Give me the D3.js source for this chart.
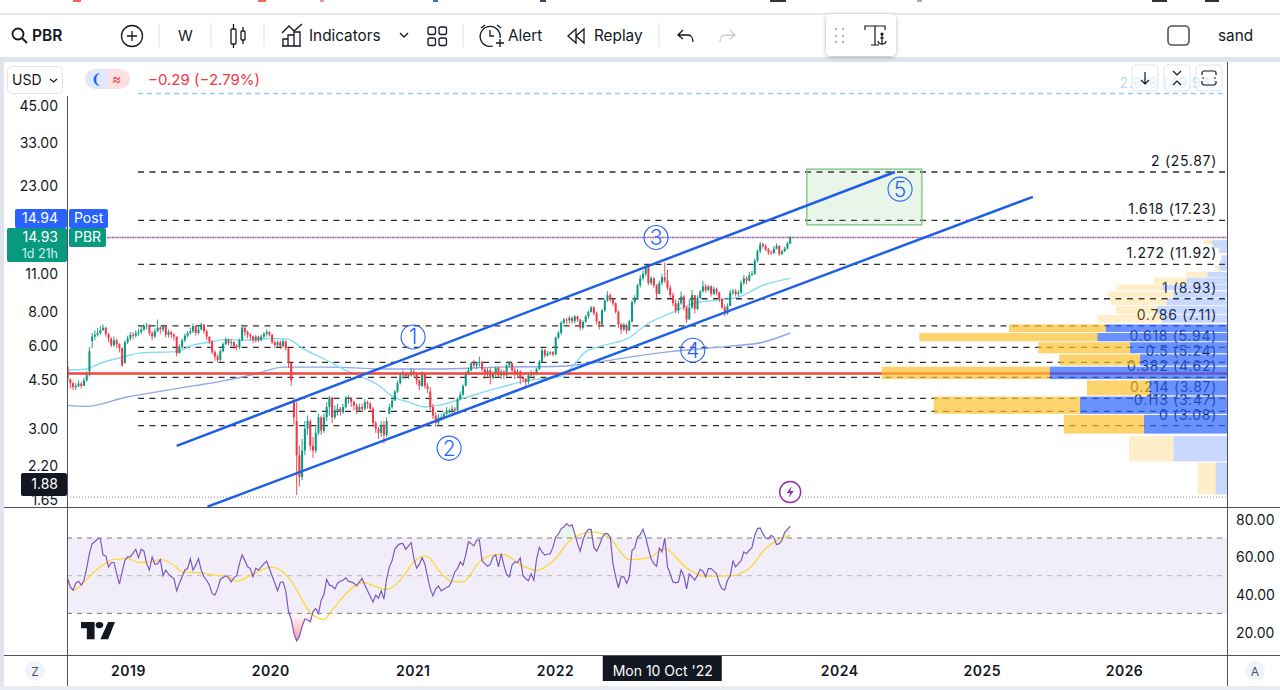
<!DOCTYPE html>
<html>
<head>
<meta charset="utf-8">
<script src="https://cdn.jsdelivr.net/npm/d3@7"></script>
<style>
    html, body { margin: 0; padding: 0; background: #fff; }
    svg { display: block; }
    text { font-family: Inter, "Noto Sans", sans-serif; fill: #131722; }
</style>
</head>
<body>
<svg id="chart" width="1280" height="690"></svg>
<script>
// weekly candles, week 0 is 30 Jul 2018
const firstWeek = Date.UTC(2018, 6, 30);

const closes = [
    4.55,4.4,4.25,4.3,4.38,4.3,4.5,4.7,5.75,6.5,
    6.6,6.7,6.85,7.0,6.65,6.4,6.05,6.3,6.1,5.9,
    5.1,6.2,6.4,6.6,6.55,6.7,6.75,6.9,7.1,7.15,
    6.7,6.5,6.8,7.0,6.9,7.15,6.6,6.75,6.6,6.5,
    5.65,5.95,6.3,6.55,6.7,6.8,7.1,6.7,6.9,7.2,
    6.8,6.5,6.25,5.7,5.5,5.35,5.75,6.1,6.35,6.15,
    6.2,6.0,5.95,6.3,7.0,6.75,6.6,6.5,6.3,6.5,
    6.3,6.5,6.65,6.75,6.6,6.2,6.05,6.2,6.0,6.25,
    5.9,5.2,4.5,3.3,2.4,2.0,2.5,3.0,3.2,2.6,
    2.5,2.9,3.3,2.95,3.3,3.6,3.9,3.3,3.5,3.55,
    3.45,3.6,3.85,3.9,3.75,3.65,3.5,3.6,3.55,3.75,
    3.7,3.55,3.15,3.0,2.9,3.1,2.85,3.2,3.6,3.8,
    4.1,4.4,4.7,4.75,4.65,4.7,4.85,4.75,4.5,4.3,
    4.75,4.3,4.2,3.6,3.35,3.15,3.3,3.3,3.4,3.5,
    3.5,3.55,3.5,3.85,4.0,4.3,4.8,4.9,5.2,5.1,
    5.2,5.25,4.95,4.8,4.9,4.6,4.75,5.0,4.7,4.85,
    4.7,5.1,5.2,4.9,4.75,4.85,4.6,4.55,4.45,4.7,
    4.8,4.75,4.95,5.25,5.8,5.55,5.65,5.7,5.6,6.45,
    6.7,7.3,7.5,7.45,7.6,7.4,7.7,7.5,7.0,7.35,
    7.7,8.0,8.3,7.9,7.4,7.2,8.1,8.8,9.2,8.9,
    8.6,8.0,7.2,6.9,7.15,6.85,7.4,8.7,9.0,10.0,
    10.6,11.0,11.7,10.2,10.6,10.0,9.3,10.2,10.7,10.4,
    9.8,9.2,8.6,8.1,8.6,9.1,8.3,7.5,8.3,9.2,
    8.2,9.0,9.5,9.9,9.6,9.9,9.3,9.7,9.4,8.9,
    8.3,7.9,8.4,9.4,9.5,9.3,9.4,10.2,10.6,10.4,
    10.9,11.0,12.3,13.3,14.1,13.9,13.5,13.2,13.1,13.6,
    13.9,13.0,13.3,13.6,14.2,14.93
];
const highs = [
    5.3,4.55,4.45,4.4,4.5,4.45,4.6,4.85,5.95,6.7,
    6.85,7.0,7.1,7.2,7.05,6.7,6.45,6.5,6.4,6.15,
    5.95,6.3,6.55,6.75,6.75,6.85,6.95,7.05,7.2,7.3,
    7.2,6.8,6.95,7.5,7.1,7.2,7.15,6.9,6.85,6.7,
    6.5,6.1,6.4,6.65,6.8,7.0,7.25,7.1,7.05,7.3,
    7.2,6.9,6.5,6.3,5.8,5.6,5.85,6.2,6.45,6.4,
    6.35,6.25,6.1,6.4,7.2,7.05,6.85,6.7,6.55,6.6,
    6.55,6.6,6.75,6.9,6.8,6.65,6.3,6.3,6.3,6.35,
    6.3,5.55,5.2,3.9,3.75,2.6,2.75,3.2,3.35,3.25,
    2.8,3.05,3.4,3.35,3.4,3.75,3.95,3.9,3.65,3.7,
    3.6,3.7,3.95,3.97,3.9,3.8,3.7,3.7,3.7,3.85,
    3.8,3.75,3.6,3.2,3.05,3.2,3.2,3.3,3.7,3.9,
    4.15,4.5,4.8,4.9,4.8,4.8,5.0,4.95,4.8,4.55,
    4.85,4.8,4.4,4.25,3.7,3.45,3.4,3.4,3.45,3.6,
    3.55,3.65,3.6,3.9,4.1,4.35,4.85,5.0,5.25,5.35,
    5.25,5.5,5.3,5.0,5.0,5.0,4.85,5.05,5.05,4.95,
    4.9,5.15,5.3,5.2,5.0,4.95,4.9,4.7,4.6,4.75,
    4.9,4.85,5.0,5.35,5.9,5.85,5.75,5.75,5.75,6.5,
    6.8,7.4,7.6,7.6,7.75,7.7,7.8,7.75,7.55,7.45,
    7.8,8.1,8.4,8.4,8.0,7.4,8.2,8.9,9.5,9.35,
    8.95,8.65,8.1,7.3,7.3,7.25,7.5,8.8,9.2,10.1,
    10.9,11.3,11.9,11.7,10.8,10.7,10.1,10.4,11.0,12.1,
    11.4,10.0,9.4,8.9,8.8,9.5,9.2,8.4,8.9,9.6,
    9.2,9.2,9.6,10.4,10.1,10.0,10.0,9.9,9.8,9.5,
    9.0,8.5,8.6,9.6,9.7,9.7,9.6,10.4,10.9,10.8,
    11.2,11.3,12.5,13.5,14.4,14.3,14.1,13.7,13.4,13.9,
    14.2,14.0,13.5,13.8,14.4,15.1
];
const lows = [
    4.4,4.2,4.15,4.15,4.25,4.2,4.3,4.45,4.65,5.9,
    6.3,6.5,6.6,6.85,6.5,6.2,5.95,5.95,5.9,5.7,
    5.05,5.2,6.1,6.3,6.35,6.45,6.55,6.65,6.8,6.9,
    6.55,6.3,6.4,6.75,6.65,6.75,6.45,6.45,6.4,6.3,
    5.5,5.65,5.85,6.2,6.45,6.6,6.7,6.55,6.6,6.85,
    6.65,6.3,6.1,5.6,5.3,5.25,5.3,5.7,6.05,6.05,
    6.0,5.85,5.8,5.85,6.25,6.55,6.4,6.3,6.15,6.2,
    6.2,6.25,6.4,6.5,6.5,6.1,5.9,5.95,5.85,5.95,
    5.8,5.0,4.3,3.1,1.72,1.85,1.95,2.4,2.85,2.5,
    2.35,2.45,2.85,2.85,2.9,3.2,3.35,3.15,3.25,3.35,
    3.35,3.4,3.55,3.7,3.6,3.5,3.4,3.45,3.45,3.5,
    3.55,3.45,3.05,2.9,2.75,2.8,2.65,2.8,3.4,3.55,
    3.8,4.05,4.35,4.55,4.55,4.55,4.65,4.6,4.35,4.15,
    4.25,4.2,4.05,3.5,3.25,3.05,3.1,3.2,3.25,3.35,
    3.4,3.4,3.4,3.45,3.8,3.95,4.3,4.7,4.85,5.0,
    4.95,5.05,4.85,4.55,4.65,4.35,4.55,4.65,4.6,4.55,
    4.55,4.65,5.0,4.8,4.55,4.6,4.35,4.45,4.3,4.35,
    4.6,4.55,4.7,4.9,5.2,5.45,5.5,5.55,5.5,5.55,
    6.35,6.6,7.2,7.2,7.25,7.25,7.25,7.35,6.85,6.9,
    7.3,7.55,7.95,7.75,7.2,6.9,7.15,8.0,8.7,8.7,
    8.4,7.9,7.0,6.65,6.8,6.65,6.8,7.3,8.5,8.9,
    9.8,10.4,10.8,10.0,10.0,9.8,9.0,9.3,10.0,10.2,
    9.6,9.0,8.4,7.9,7.9,8.5,8.1,7.3,7.5,8.2,
    7.9,8.1,8.9,9.4,9.4,9.5,9.1,9.2,9.2,8.7,
    8.2,7.7,7.8,8.4,9.2,9.1,9.1,9.3,10.0,10.1,
    10.3,10.8,10.9,12.1,13.1,13.6,13.3,12.9,12.9,13.0,
    13.5,12.8,12.9,13.2,13.5,14.1
];
// open is the previous close, except on these gap weeks
const gapWeeks = [0, 8, 9, 21, 83, 84, 118, 133];
const gapOpens = [5.05, 4.85, 6.25, 5.2, 3.8, 3.2, 3.4, 4.1];

const rsiValues = [
    48.5,44,42.3,46,47,45,47.6,54,62,67,
    68,69.6,69.6,61,60.5,54.6,57,57,51,45.5,
    52,58,60,60,62,64,59.6,64,63,56.4,
    53,60,56,56.4,58.5,50,53,51,49.4,48.5,
    42,46,49.4,53,53.8,59,53,55.6,59,53,
    49.4,47.6,45,40.6,39.7,43,48,49,50,49,
    46.7,49,50,56.4,61,58,54.7,53.8,49.4,54,
    53,54.7,56.4,57.7,53.8,50,46,42,46.4,46.7,
    42,31,27,19.4,15.4,17.7,23,27,26.5,25.6,
    31,32.6,30,37,40,48,45,44.6,43,46,
    47,47.6,49,47,46.7,46,44.6,46.7,48.5,45,
    42,39,36,39.7,38,42,37.6,48.5,54.7,58,
    64,66,67,67,64,65.8,67.5,59,54,56,
    59.5,56.4,49.4,43,39.3,43,44.5,42,43,43.7,
    44.5,47.6,52,53.8,57.3,55.6,61,68,67,65.8,
    68.8,69,58,56.4,55,56,60,61,54.7,61.7,
    55.6,50.6,49.4,55.6,57.3,57,59.4,50,48.5,47.3,
    51,47.6,59,65,62.6,61,61.4,61.7,65,70.5,
    72,75,75.8,77.6,76.3,77,72.3,67,63,68.8,
    72.8,74.6,74.6,65,63,66,70,72.3,72.3,70.5,
    56.4,49.4,43.6,49.4,49.4,45.9,49.4,63.5,64.7,70.5,
    71.8,74.6,70.5,64.4,59,56.4,55,64.7,62.6,70,
    54.7,51,46.7,46.2,46.7,53,50,43,51,49.4,
    47.6,50.3,53.4,52.4,49.4,53.8,53.8,52.4,51,46,
    43,42.4,47.6,50,57.7,54.7,56.4,58,62.6,61.7,
    63.5,65,71.4,75,75.3,72.3,70,69.6,71.4,70.5,
    66.5,67,68.8,73,74.6,76.3
];
const rsiMaWeeks = [
    0,2,5,9,12,17,22,26,31,34,39,42,48,54,59,62,68,75,80,83,86,89,94,97,103,108,
    111,117,122,127,131,133,136,141,145,151,157,160,166,172,178,185,193,199,206,
    213,219,227,234,243,250,256,265
];
const rsiMaValues = [
    47.1,42.3,45,51.1,54.7,58.7,59.1,57,57.3,58.7,55.5,52,51.5,50.3,49.4,47,51,54.5,50.6,45,37,30.5,26.8,31.8,41.8,46.4,
    45.3,42.7,47.6,57.3,60.5,59,53,47,46.7,57.3,61.2,61.2,55.9,52.9,57.7,69.6,73.2,69.6,58.5,
    59.4,64.4,54.1,49.7,49.9,53.8,64.4,71.4
];

// moving averages on the price pane
const cyanWeeks = [0,6,13,20,27,40,46,52,58,65,75,81,86,95,102,109,114,119,125,131,136,145,157,169,181,185,190,197,206,213,221,231,238,246,255,265];
const cyanPrices = [4.9,4.94,5.24,5.47,5.67,5.73,6.05,6.2,6.35,6.3,6.4,6.35,5.9,5.33,4.9,4.58,4.32,3.94,3.75,3.6,3.65,3.87,4.2,4.5,4.66,5.03,5.73,6.05,6.45,7.27,7.9,8.66,8.81,9.05,10.0,10.6];
const blueWeeks = [0,7,21,40,58,70,79,95,119,136,157,181,194,206,221,243,255,265];
const bluePrices = [3.65,3.62,3.9,4.2,4.5,4.78,5.03,5.03,4.95,4.95,5.03,5.07,5.24,5.47,5.73,6.0,6.2,6.7];

// fibonacci levels
const fibRatios = ["2", "1.618", "1.272", "1", "0.786", "0.618", "0.5", "0.382", "0.214", "0.113", "0"];
const fibPrices = [25.87, 17.23, 11.92, 8.93, 7.11, 5.94, 5.24, 4.62, 3.87, 3.47, 3.08];
const topFibRatio = "2.618";
const topFibPrice = 49.94;
const supportPrice = 4.77;
const lastPrice = 14.93;
const lowPrice = 1.69;

// channel lines as [week, price] ends
const upperChannel = [[40, 2.6], [303.4, 25.87]];
const lowerChannel = [[51.3, 1.56], [354, 21.0]];

// target box
const boxWeeks = [271.1, 313.3];
const boxPrices = [26.5, 16.6];

// wave labels
const waveNames = ["1", "2", "3", "4", "5"];
const waveWeeks = [126.7, 139.9, 215.8, 229.3, 305.3];
const wavePrices = [6.48, 2.55, 14.93, 5.8, 22.4];

// volume profile rows
const vpTop = [14.6,14.1,13.7,12.85,12.3,11.8,11.2,10.65,10.05,9.5,8.95,8.4,7.8,7.2,6.7,6.2,5.6,5.05,4.5,3.93,3.37,2.82,2.26];
const vpBottom = [14.1,13.7,13.1,12.3,11.8,11.3,10.7,10.1,9.6,9.0,8.45,7.85,7.3,6.75,6.25,5.65,5.1,4.55,3.97,3.4,2.88,2.28,1.73];
const vpUp = [4.4,4.0,2.2,1.5,2.0,2.2,5.7,11.7,18.6,15.6,17.5,20.4,18.9,35.2,37.6,28.1,25.2,51.4,22.5,42.6,24.1,15.5,3.3];
const vpDown = [2.4,0.5,0.3,0.3,0.2,1.3,6.2,9.5,13.3,19.1,16.2,11.8,18.6,28,51.6,26.6,23.4,48.7,18.1,42.4,23.2,12.9,5.2];
const valueAreaHigh = 7.2;
const valueAreaLow = 2.88;

const priceTicks = [45, 33, 23, 11, 8, 6, 4.5, 3, 2.2, 1.65];
const rsiTicks = [80, 60, 40, 20];
const rsiLevels = [70, 50, 30];
const yearLabels = [2019, 2020, 2021, 2022, 2024, 2025, 2026];

const left = 67, right = 1227, paneTop = 62, paneBottom = 507, rsiBottom = 655, axisBottom = 686;

const svg = d3.select("#chart");

const weekDate = (week) => new Date(firstWeek + week * 7 * 86400000);

const x = d3.scaleUtc()
    .domain([Date.UTC(2019, 0, 1), Date.UTC(2026, 0, 1)])
    .range([128, 1124]);
const xWeek = (week) => x(weekDate(week));

const y = d3.scaleLog()
    .domain([1.65, 45])
    .range([500, 106]);

const rsiY = d3.scaleLinear()
    .domain([30, 70])
    .range([613.4, 538]);

const vpWidth = d3.scaleLinear()
    .domain([0, 100])
    .range([0, 345]);

const defs = svg.append("defs");
defs.append("clipPath").attr("id", "pricePane")
    .append("rect")
    .attr("x", left).attr("y", paneTop)
    .attr("width", right - left).attr("height", paneBottom - paneTop);
const redFade = defs.append("linearGradient").attr("id", "redFade")
    .attr("x1", 0).attr("x2", 0).attr("y1", 0).attr("y2", 1);
redFade.append("stop").attr("offset", 0).attr("stop-color", "#f23645").attr("stop-opacity", 0);
redFade.append("stop").attr("offset", 1).attr("stop-color", "#f23645").attr("stop-opacity", 0.5);
const shadow = defs.append("filter").attr("id", "cardShadow")
    .attr("x", "-20%").attr("y", "-20%").attr("width", "140%").attr("height", "150%");
shadow.append("feDropShadow").attr("dx", 0).attr("dy", 1).attr("stdDeviation", 2).attr("flood-opacity", 0.3);

drawFrame();
drawToolbar();

const pane = svg.append("g").attr("clip-path", "url(#pricePane)");
drawLevels();
drawAverages();
drawCandles();
drawDrawings();
drawVolumeProfile();
drawRsi();
drawAxes();
drawChartButtons();

function drawFrame() {
    svg.append("rect").attr("width", 1280).attr("height", 690).attr("fill", "#fff");
    const bands = [[0, 13, 1280, 2, "#e9e9ec"], [0, 57, 1280, 5, "#e0e3eb"], [0, 57, 4, 633, "#e0e3eb"], [0, 686, 1280, 4, "#e9ecf3"]];
    bands.forEach(([bx, by, bw, bh, color]) => {
        svg.append("rect").attr("x", bx).attr("y", by).attr("width", bw).attr("height", bh).attr("fill", color);
    });
    // cut off icons of the browser bar above
    [[73, 8, "#f0695f"], [258, 8, "#f0695f"], [320, 4, "#e9988f"], [433, 5, "#3b6fd4"], [540, 6, "#3c4a63"], [770, 16, "#333"], [917, 5, "#aaa"], [1152, 15, "#333"], [1205, 14, "#333"]].forEach(([bx, bw, color]) => {
        svg.append("rect").attr("x", bx).attr("y", 0).attr("width", bw).attr("height", 2).attr("fill", color);
    });
}

function drawToolbar() {
    const bar = svg.append("g").attr("fill", "none").attr("stroke", "#131722").attr("stroke-width", 1.3);
    const sep = [159, 211, 264, 463, 659];
    sep.forEach((sx) => {
        bar.append("line").attr("x1", sx).attr("x2", sx).attr("y1", 23).attr("y2", 47).attr("stroke", "#e6e6e9");
    });

    // search
    bar.append("circle").attr("cx", 18).attr("cy", 34).attr("r", 5.5).attr("stroke-width", 1.8);
    bar.append("path").attr("d", "M22 38L27 43").attr("stroke-width", 1.8);
    // add symbol
    bar.append("circle").attr("cx", 132).attr("cy", 36).attr("r", 10.5);
    bar.append("path").attr("d", "M127 36H137M132 31V41");
    // candles icon
    bar.append("rect").attr("x", 231).attr("y", 29).attr("width", 5).attr("height", 15).attr("rx", 1);
    bar.append("rect").attr("x", 241).attr("y", 31).attr("width", 4).attr("height", 9).attr("rx", 1);
    bar.append("path").attr("d", "M233.5 24V29M233.5 44V48M243 27V31M243 40V44");
    // indicators icon
    bar.append("path").attr("d", "M282 33L289 26L294 31L302 24");
    bar.append("path").attr("d", "M283 46V39H288V46M288 46V35H294V46M294 46V32H300V46M282 46H301");
    bar.append("path").attr("d", "M400 33L404 37L408 33");
    // layouts icon
    [[428, 27], [439, 27], [428, 38], [439, 38]].forEach(([sx, sy]) => {
        bar.append("rect").attr("x", sx).attr("y", sy).attr("width", 7.5).attr("height", 7.5).attr("rx", 2);
    });
    // alert icon
    bar.append("path").attr("d", "M493 46A10 10 0 1 1 500 38M481 28L485 25M497 25L501 28M490 30V36H494");
    bar.append("path").attr("d", "M496 43H504M500 39V47");
    // replay icon
    bar.append("path").attr("d", "M576 29L568 36L576 43ZM584 29L576 36L584 43Z");
    // undo, redo
    bar.append("path").attr("d", "M683 30L678 35L683 39M678 35H688C691 35 693 38 693 42");
    bar.append("path").attr("d", "M730 30L735 35L730 39M735 35H725C722 35 720 38 720 42").attr("stroke", "#c9cbd1");
    // screenshot box
    bar.append("rect").attr("x", 1168).attr("y", 26).attr("width", 21).attr("height", 19).attr("rx", 4).attr("stroke", "#50535e").attr("stroke-width", 1.6);

    const labels = [["PBR", 32, 41, 15.5, 600], ["W", 178, 41, 15, 400], ["Indicators", 309, 41, 15.3, 400], ["Alert", 508, 41, 15.3, 400], ["Replay", 594, 41, 15.3, 400], ["sand", 1218, 41, 15.3, 400]];
    labels.forEach(([name, lx, ly, size, weight]) => {
        svg.append("text").attr("x", lx).attr("y", ly).attr("font-size", size).attr("font-weight", weight).text(name);
    });

    // floating drawing card
    const card = svg.append("g");
    card.append("rect").attr("x", 826).attr("y", 14).attr("width", 70).attr("height", 42).attr("rx", 5)
        .attr("fill", "#fff").attr("filter", "url(#cardShadow)");
    [[836, 29], [843, 29], [836, 36], [843, 36], [836, 42], [843, 42]].forEach(([dx, dy]) => {
        card.append("circle").attr("cx", dx).attr("cy", dy).attr("r", 1.2).attr("fill", "#b2b5be");
    });
    card.append("path").attr("fill", "none").attr("stroke", "#131722").attr("stroke-width", 1.2)
        .attr("d", "M865 30V26H885V30M875 26V45M871 45H879M882 35V45M878 41C878 45 886 45 886 41M880 38H884");
    card.append("circle").attr("cx", 882).attr("cy", 34).attr("r", 1.6).attr("fill", "#131722");
}

function drawLevels() {
    const levelX = 138;

    pane.append("line")
        .attr("x1", levelX).attr("x2", right)
        .attr("y1", y(topFibPrice)).attr("y2", y(topFibPrice))
        .attr("stroke", "#90caf9").attr("stroke-width", 1.5).attr("stroke-dasharray", "5 4");
    svg.append("text")
        .attr("x", 1217).attr("y", y(topFibPrice) - 6)
        .attr("text-anchor", "end").attr("font-size", 14).attr("letter-spacing", 0.7).style("fill", "#b9dcfa")
        .text(`${topFibRatio} (${topFibPrice})`);

    pane.selectAll(".fib")
        .data(fibPrices)
        .enter()
        .append("line")
        .attr("class", "fib")
        .attr("x1", levelX).attr("x2", right)
        .attr("y1", (d) => y(d)).attr("y2", (d) => y(d))
        .attr("stroke", "#2b2e36").attr("stroke-width", 1.3).attr("stroke-dasharray", "6 5.5");

    pane.selectAll(".fib-label")
        .data(fibPrices)
        .enter()
        .append("text")
        .attr("class", "fib-label")
        .attr("x", 1217)
        .attr("y", (d) => y(d) - 6)
        .attr("text-anchor", "end")
        .attr("font-size", 14)
        .attr("letter-spacing", 0.7)
        .text((d, i) => `${fibRatios[i]} (${d})`);

    pane.append("line")
        .attr("x1", left).attr("x2", right)
        .attr("y1", y(lowPrice)).attr("y2", y(lowPrice))
        .attr("stroke", "#8a8d96").attr("stroke-dasharray", "1 2");

    // last price line alternates a red and a blue dot
    [["#e5505f", "2 3", 0], ["#5b7fe8", "2 3", 2.5]].forEach(([color, dash, offset]) => {
        pane.append("line")
            .attr("x1", 107).attr("x2", right)
            .attr("y1", y(lastPrice)).attr("y2", y(lastPrice))
            .attr("stroke", color).attr("stroke-width", 1.3)
            .attr("stroke-dasharray", dash).attr("stroke-dashoffset", offset);
    });
}

function drawAverages() {
    const line = d3.line()
        .x((d) => xWeek(d[0]))
        .y((d) => y(d[1]))
        .curve(d3.curveMonotoneX);

    pane.append("path")
        .attr("d", line(d3.zip(blueWeeks, bluePrices)))
        .attr("fill", "none").attr("stroke", "#8fa8ee").attr("stroke-width", 1.4);
    pane.append("path")
        .attr("d", line(d3.zip(cyanWeeks, cyanPrices)))
        .attr("fill", "none").attr("stroke", "#86dcf2").attr("stroke-width", 1.4);
}

function drawCandles() {
    const weeks = d3.range(closes.length);
    const open = (week) => {
        const gap = gapWeeks.indexOf(week);
        return gap >= 0 ? gapOpens[gap] : closes[week - 1];
    };
    const color = (week) => closes[week] >= open(week) ? "#089981" : "#f23645";
    const candles = pane.append("g");

    candles.selectAll(".wick")
        .data(weeks)
        .enter()
        .append("line")
        .attr("class", "wick")
        .attr("x1", (d) => xWeek(d)).attr("x2", (d) => xWeek(d))
        .attr("y1", (d) => y(highs[d])).attr("y2", (d) => y(lows[d]))
        .attr("stroke", color).attr("stroke-width", 0.9);

    candles.selectAll(".body")
        .data(weeks)
        .enter()
        .append("rect")
        .attr("class", "body")
        .attr("x", (d) => xWeek(d) - 1)
        .attr("width", 2)
        .attr("y", (d) => y(Math.max(open(d), closes[d])))
        .attr("height", (d) => Math.max(1, Math.abs(y(open(d)) - y(closes[d]))))
        .attr("fill", color);
}

function drawDrawings() {
    pane.append("line")
        .attr("x1", left).attr("x2", right)
        .attr("y1", y(supportPrice)).attr("y2", y(supportPrice))
        .attr("stroke", "#f2453d").attr("stroke-width", 2.4);

    pane.append("rect")
        .attr("x", xWeek(boxWeeks[0]))
        .attr("y", y(boxPrices[0]))
        .attr("width", xWeek(boxWeeks[1]) - xWeek(boxWeeks[0]))
        .attr("height", y(boxPrices[1]) - y(boxPrices[0]))
        .attr("fill", "#4caf50").attr("fill-opacity", 0.13)
        .attr("stroke", "#81c784").attr("stroke-width", 1.4);

    [upperChannel, lowerChannel].forEach((ends) => {
        pane.append("line")
            .attr("x1", xWeek(ends[0][0])).attr("y1", y(ends[0][1]))
            .attr("x2", xWeek(ends[1][0])).attr("y2", y(ends[1][1]))
            .attr("stroke", "#1f5fe8").attr("stroke-width", 2.5);
    });

    const waves = pane.selectAll(".wave")
        .data(waveNames)
        .enter()
        .append("g")
        .attr("class", "wave")
        .attr("transform", (d, i) => `translate(${xWeek(waveWeeks[i])}, ${y(wavePrices[i])})`);
    waves.append("circle")
        .attr("r", 12)
        .attr("fill", "none").attr("stroke", "#2962ff").attr("stroke-width", 1.1);
    waves.append("text")
        .attr("text-anchor", "middle").attr("y", 7.5)
        .attr("font-size", 21)
        .attr("font-weight", 300)
        .style("fill", "#2962ff")
        .text((d) => d);

    // earnings marker
    const marker = svg.append("g").attr("transform", `translate(${xWeek(265)}, 492)`);
    marker.append("circle").attr("r", 10.5).attr("fill", "#fff").attr("stroke", "#9c27b0").attr("stroke-width", 1.4);
    marker.append("path").attr("d", "M1.5 -6L-3.5 1H0L-1.5 6L3.5 -1H0Z").attr("fill", "#9c27b0");
}

function drawVolumeProfile() {
    const rows = d3.range(vpUp.length);
    const inArea = (row) => vpTop[row] <= valueAreaHigh && vpBottom[row] >= valueAreaLow;
    const profile = pane.append("g");

    profile.selectAll(".vp-up")
        .data(rows)
        .enter()
        .append("rect")
        .attr("class", "vp-up")
        .attr("x", (d) => right - vpWidth(vpUp[d]))
        .attr("y", (d) => y(vpTop[d]))
        .attr("width", (d) => vpWidth(vpUp[d]))
        .attr("height", (d) => y(vpBottom[d]) - y(vpTop[d]))
        .attr("fill", "#2962ff")
        .attr("fill-opacity", (d) => inArea(d) ? 0.7 : 0.25);

    profile.selectAll(".vp-down")
        .data(rows)
        .enter()
        .append("rect")
        .attr("class", "vp-down")
        .attr("x", (d) => right - vpWidth(vpUp[d]) - vpWidth(vpDown[d]))
        .attr("y", (d) => y(vpTop[d]))
        .attr("width", (d) => vpWidth(vpDown[d]))
        .attr("height", (d) => y(vpBottom[d]) - y(vpTop[d]))
        .attr("fill", "#fbc02d")
        .attr("fill-opacity", (d) => inArea(d) ? 0.7 : 0.25);
}

function drawRsi() {
    const g = svg.append("g");
    const weeks = d3.range(rsiValues.length);

    g.append("rect")
        .attr("x", left).attr("width", right - left)
        .attr("y", rsiY(70)).attr("height", rsiY(30) - rsiY(70))
        .attr("fill", "#7e57c2").attr("fill-opacity", 0.1);

    g.selectAll(".rsi-level")
        .data(rsiLevels)
        .enter()
        .append("line")
        .attr("class", "rsi-level")
        .attr("x1", left).attr("x2", right)
        .attr("y1", (d) => rsiY(d)).attr("y2", (d) => rsiY(d))
        .attr("stroke", (d) => d === 50 ? "#b2b5be" : "#787b86")
        .attr("stroke-dasharray", "5 5");

    const below = d3.area()
        .x((d) => xWeek(d))
        .y0(rsiY(30))
        .y1((d) => rsiY(Math.min(30, rsiValues[d])));
    g.append("path").attr("d", below(weeks)).attr("fill", "url(#redFade)");

    const above = d3.area()
        .x((d) => xWeek(d))
        .y0(rsiY(70))
        .y1((d) => rsiY(Math.max(70, rsiValues[d])));
    g.append("path").attr("d", above(weeks)).attr("fill", "#4caf50").attr("fill-opacity", 0.12);

    const maLine = d3.line()
        .x((d) => xWeek(d[0]))
        .y((d) => rsiY(d[1]))
        .curve(d3.curveMonotoneX);
    g.append("path")
        .attr("d", maLine(d3.zip(rsiMaWeeks, rsiMaValues)))
        .attr("fill", "none").attr("stroke", "#fdd835").attr("stroke-width", 1.3);

    const rsiLine = d3.line()
        .x((d) => xWeek(d))
        .y((d) => rsiY(rsiValues[d]));
    g.append("path")
        .attr("d", rsiLine(weeks))
        .attr("fill", "none").attr("stroke", "#7e57c2").attr("stroke-width", 1.2);

    g.append("path")
        .attr("transform", "translate(81, 622) scale(0.97, 0.62)")
        .attr("d", "M14 0H0V10H6V28H14V0ZM28 28H20L28 0H35L28 28ZM19 10A4 5 0 1 0 19 0A4 5 0 0 0 19 10Z")
        .attr("fill", "#131722");
}

function drawAxes() {
    const lines = svg.append("g").attr("stroke", "#50535e").attr("stroke-width", 1);
    lines.append("line").attr("x1", left + 0.5).attr("x2", left + 0.5).attr("y1", 96).attr("y2", axisBottom);
    lines.append("line").attr("x1", right + 0.5).attr("x2", right + 0.5).attr("y1", 62).attr("y2", axisBottom);
    lines.append("line").attr("x1", 4).attr("x2", 1280).attr("y1", paneBottom + 0.5).attr("y2", paneBottom + 0.5);
    lines.append("line").attr("x1", 4).attr("x2", 1280).attr("y1", rsiBottom + 0.5).attr("y2", rsiBottom + 0.5);

    const priceAxis = d3.axisLeft(y)
        .tickValues(priceTicks)
        .tickFormat(d3.format(".2f"))
        .tickSize(0)
        .tickPadding(9);
    const priceG = svg.append("g").attr("transform", `translate(${left}, 0)`).call(priceAxis);
    priceG.select(".domain").remove();
    priceG.selectAll("text").attr("font-size", 14).attr("font-family", null);

    const rsiAxis = d3.axisRight(rsiY)
        .tickValues(rsiTicks)
        .tickFormat(d3.format(".2f"))
        .tickSize(0)
        .tickPadding(9);
    const rsiG = svg.append("g").attr("transform", `translate(${right}, 0.5)`).call(rsiAxis);
    rsiG.select(".domain").remove();
    rsiG.selectAll("text").attr("font-size", 14).attr("font-family", null);

    const timeAxis = d3.axisBottom(x)
        .tickValues(yearLabels.map((d) => new Date(Date.UTC(d, 0, 1))))
        .tickFormat(d3.utcFormat("%Y"))
        .tickSize(0)
        .tickPadding(11);
    const timeG = svg.append("g").attr("transform", `translate(0, ${rsiBottom})`).call(timeAxis);
    timeG.select(".domain").remove();
    timeG.selectAll("text").attr("font-size", 14).attr("font-weight", 600).attr("font-family", null).attr("letter-spacing", 0.5);

    // crosshair date tag
    const tagX = x(new Date(Date.UTC(2022, 9, 10))) - 2;
    svg.append("rect").attr("x", tagX - 60).attr("y", rsiBottom + 1).attr("width", 119).attr("height", 25).attr("fill", "#131722");
    svg.append("text").attr("x", tagX).attr("y", 676).attr("text-anchor", "middle").attr("font-size", 14)
        .style("fill", "#fff").text("Mon 10 Oct '22");

    // price tags on the axis
    const postY = y(lastPrice) - 28.5;
    const tag = (tx, ty, tw, th, color, radius) => {
        svg.append("rect").attr("x", tx).attr("y", ty).attr("width", tw).attr("height", th).attr("rx", radius).attr("fill", color);
    };
    const tagText = (label, tx, ty, anchor, fill) => {
        svg.append("text").attr("x", tx).attr("y", ty).attr("text-anchor", anchor).attr("font-size", 14)
            .style("fill", fill).text(label);
    };
    tag(15, postY, 52, 19, "#2962ff", 2);
    tag(69, postY, 39, 19, "#2962ff", 2);
    tagText("14.94", 58, postY + 14, "end", "#fff");
    tagText("Post", 74, postY + 14, "start", "#fff");
    tag(7, postY + 19, 60, 34, "#089981", 2);
    tag(69, postY + 19, 37, 19, "#089981", 2);
    tagText(String(lastPrice), 58, postY + 33, "end", "#fff");
    tagText("PBR", 74, postY + 33, "start", "#fff");
    svg.append("text").attr("x", 58).attr("y", postY + 49.5).attr("text-anchor", "end").attr("font-size", 12.5)
        .style("fill", "#d3efe8").text("1d 21h");
    tag(21, 473, 46, 23, "#131722", 2);
    tagText("1.88", 58, 489, "end", "#fff");

    // round buttons on the time axis
    [["Z", 35], ["A", 1255]].forEach(([label, cx]) => {
        svg.append("circle").attr("cx", cx).attr("cy", 671).attr("r", 10).attr("fill", "#f0f3fa");
        svg.append("text").attr("x", cx).attr("y", 675.5).attr("text-anchor", "middle").attr("font-size", 12)
            .style("fill", "#50535e").text(label);
    });
}

function drawChartButtons() {
    // currency select
    svg.append("rect").attr("x", 7.5).attr("y", 66.5).attr("width", 55).attr("height", 27).attr("rx", 4)
        .attr("fill", "#fff").attr("stroke", "#e0e3eb");
    svg.append("text").attr("x", 12).attr("y", 85).attr("font-size", 14).text("USD");
    svg.append("path").attr("d", "M50 79L53.5 82L57 79").attr("fill", "none").attr("stroke", "#131722").attr("stroke-width", 1.2);

    // session pill
    svg.append("path").attr("d", "M108 69H95A10 10 0 0 0 95 89H108Z").attr("fill", "#dfe8fd");
    svg.append("path").attr("d", "M108 69H120A10 10 0 0 1 120 89H108Z").attr("fill", "#fde0e2");
    svg.append("path").attr("d", "M100 73A6.5 6.5 0 1 0 100 86A7.5 7.5 0 0 1 100 73Z").attr("fill", "#2962ff");
    svg.append("text").attr("x", 112).attr("y", 84).attr("font-size", 14).style("fill", "#f23645").text("≈");

    svg.append("text").attr("x", 148).attr("y", 85).attr("font-size", 15)
        .style("fill", "#f23645").text("−0.29 (−2.79%)");

    // buttons over the right corner of the pane
    const icons = [
        [1145, "M0 -6V6M-4 2L0 6L4 2"],
        [1177, "M-4 -7L0 -3L4 -7M-4 7L0 3L4 7"],
        [1209, "M-7 -3V-5A2 2 0 0 1 -5 -7H5A2 2 0 0 1 7 -5V-3M-7 3V5A2 2 0 0 0 -5 7H5A2 2 0 0 0 7 5V3M-7 0H-5M5 0H7"]
    ];
    icons.forEach(([cx, d]) => {
        const button = svg.append("g").attr("transform", `translate(${cx}, 78)`);
        button.append("rect").attr("x", -13).attr("y", -13).attr("width", 26).attr("height", 26).attr("rx", 4)
            .attr("fill", "#fff").attr("fill-opacity", 0.55).attr("stroke", "#e0e3eb");
        button.append("path").attr("d", d).attr("fill", "none").attr("stroke", "#131722").attr("stroke-width", 1.2);
    });
}
</script>
</body>
</html>
